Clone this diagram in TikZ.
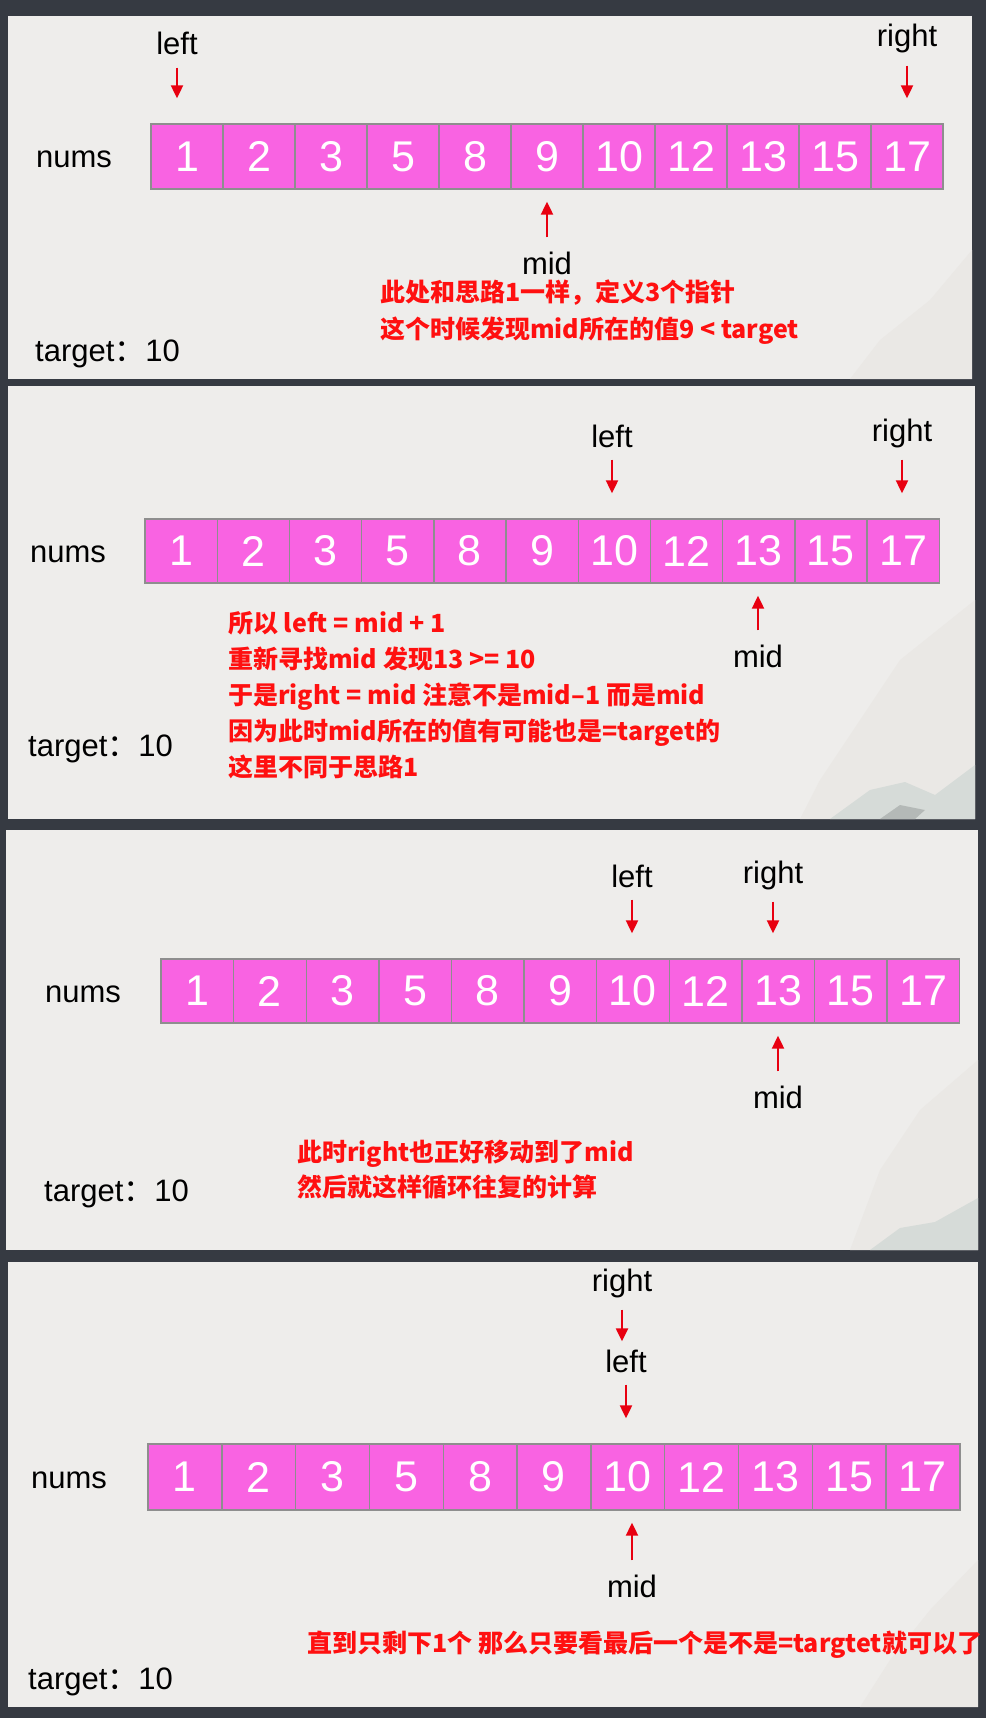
\documentclass[tikz,border=0pt]{standalone}
\usepackage{fontspec}
\setmainfont{Liberation Sans}
\newfontfamily\cjk{Noto Sans CJK SC}
\usetikzlibrary{arrows.meta,positioning}

\definecolor{slate}{HTML}{363A42}
\definecolor{paper}{HTML}{EEEDEB}
\definecolor{fold}{HTML}{EAE8E5}
\definecolor{hill}{HTML}{D6DBD8}
\definecolor{hilldark}{HTML}{B4B9B7}
\definecolor{cellpink}{HTML}{F963E2}
\definecolor{cellrim}{HTML}{8E8E8E}
\definecolor{notered}{HTML}{FF1010}
\definecolor{arrowred}{HTML}{E80010}

\begin{document}
\begin{tikzpicture}[
  x=1pt, y=-1pt,
  panel/.style={fill=paper},
  cell/.style={draw=cellrim, line width=1.4pt, fill=cellpink, text=white, inner sep=0pt, font=\fontsize{43}{43}\selectfont},
  tag/.style={inner sep=0pt, anchor=base, font=\fontsize{31}{31}\selectfont},
  note/.style={inner sep=0pt, anchor=base west, align=left, text=notered, font=\cjk\bfseries\fontsize{25}{36}\selectfont},
  ptr/.style={-{Triangle[width=12pt,length=13pt]}, color=arrowred, line width=2.2pt},
  dnptr/.style={ptr, shorten <=12pt, shorten >=25pt},
  upptr/.style={ptr, shorten <=14pt, shorten >=12pt}
]
\fill[slate] (0,0) rectangle (986,1718);
\useasboundingbox (0,0) rectangle (986,1718);

% step 1: left, right at the ends, mid in the middle
\fill[panel] (8,16) rectangle (972,379);
\fill[fold] (972,250) -- (930,300) -- (880,340) -- (850,379) -- (972,379) -- cycle;
\foreach \v [count=\i] in {1,2,3,5,8,9,10,12,13,15,17}
  \node[cell, minimum width=72pt, minimum height=65pt] (a1-\i) at ({151+72*(\i-0.5)},156.5) {\v};
\node[tag] (nums1) at (74,167) {nums};
\node[tag, anchor=base west] (tgt1) at (35,361) {target{\cjk ：}10};
\node[tag] (lft1) at (177,55) {left};
\node[tag] (rgt1) at (907,47) {right};
\node[tag] (mid1) at (547,274) {mid};
\draw[dnptr] (lft1.south) -- (lft1.south |- a1-1.north);
\draw[dnptr] (rgt1.south) -- (rgt1.south |- a1-11.north);
\draw[upptr] (mid1.north) -- (mid1.north |- a1-6.south);
\node[note, font=\cjk\bfseries\fontsize{25}{37}\selectfont] (note1) at (380,338) {此处和思路1一样，定义3个指针\\这个时候发现mid所在的值9 < target};

% step 2: left moves past mid
\fill[panel] (8,386) rectangle (975,819);
\fill[fold] (975,600) -- (900,660) -- (860,720) -- (820,780) -- (800,819) -- (975,819) -- cycle;
\fill[hill] (830,819) -- (870,790) -- (905,782) -- (935,795) -- (975,765) -- (975,819) -- cycle;
\fill[hilldark] (880,819) -- (900,805) -- (925,810) -- (915,819) -- cycle;
\foreach \v [count=\i] in {1,2,3,5,8,9,10,12,13,15,17}
  \node[cell, minimum width=72.2pt, minimum height=64pt] (a2-\i) at ({145+72.2*(\i-0.5)},551) {\v};
\node[tag] (nums2) at (68,562) {nums};
\node[tag, anchor=base west] (tgt2) at (28,756) {target{\cjk ：}10};
\node[tag] (lft2) at (612,447) {left};
\node[tag] (rgt2) at (902,441) {right};
\node[tag] (mid2) at (758,667) {mid};
\draw[dnptr] (lft2.south) -- (lft2.south |- a2-7.north);
\draw[dnptr] (rgt2.south) -- (rgt2.south |- a2-11.north);
\draw[upptr] (mid2.north) -- (mid2.north |- a2-9.south);
\node[note] (note2) at (228,776) {所以 left = mid + 1\\重新寻找mid 发现13 >= 10\\于是right = mid 注意不是mid–1 而是mid\\因为此时mid所在的值有可能也是=target的\\这里不同于思路1};

% step 3: right moves onto mid
\fill[panel] (6,830) rectangle (978,1250);
\fill[fold] (978,1060) -- (920,1110) -- (880,1170) -- (850,1250) -- (978,1250) -- cycle;
\fill[hill] (870,1250) -- (900,1228) -- (935,1222) -- (978,1198) -- (978,1250) -- cycle;
\foreach \v [count=\i] in {1,2,3,5,8,9,10,12,13,15,17}
  \node[cell, minimum width=72.6pt, minimum height=64pt] (a3-\i) at ({161+72.6*(\i-0.5)},991) {\v};
\node[tag] (nums3) at (83,1002) {nums};
\node[tag, anchor=base west] (tgt3) at (44,1201) {target{\cjk ：}10};
\node[tag] (lft3) at (632,887) {left};
\node[tag] (rgt3) at (773,883) {right};
\node[tag] (mid3) at (778,1108) {mid};
\draw[dnptr] (lft3.south) -- (lft3.south |- a3-7.north);
\draw[dnptr] (rgt3.south) -- (rgt3.south |- a3-9.north);
\draw[upptr] (mid3.north) -- (mid3.north |- a3-9.south);
\node[note, font=\cjk\bfseries\fontsize{25}{35}\selectfont] (note3) at (297,1196) {此时right也正好移动到了mid\\然后就这样循环往复的计算};

% step 4: one element left
\fill[panel] (8,1262) rectangle (978,1707);
\fill[fold] (978,1560) -- (930,1610) -- (890,1660) -- (860,1707) -- (978,1707) -- cycle;
\foreach \v [count=\i] in {1,2,3,5,8,9,10,12,13,15,17}
  \node[cell, minimum width=73.8pt, minimum height=66pt] (a4-\i) at ({148+73.8*(\i-0.5)},1477) {\v};
\node[tag] (nums4) at (69,1488) {nums};
\node[tag, anchor=base west] (tgt4) at (28,1689) {target{\cjk ：}10};
\node[tag] (rgt4) at (622,1291) {right};
\node[tag] (lft4) at (626,1372) {left};
\node[tag] (mid4) at (632,1597) {mid};
\draw[ptr, shorten <=12pt, shorten >=8pt] (rgt4.south) -- (rgt4.south |- lft4.north);
\draw[dnptr] (lft4.south) -- (lft4.south |- a4-7.north);
\draw[upptr] (mid4.north) -- (mid4.north |- a4-7.south);
\node[note] (note4) at (307,1652) {直到只剩下1个 那么只要看最后一个是不是=targtet就可以了};
\end{tikzpicture}
\end{document}
